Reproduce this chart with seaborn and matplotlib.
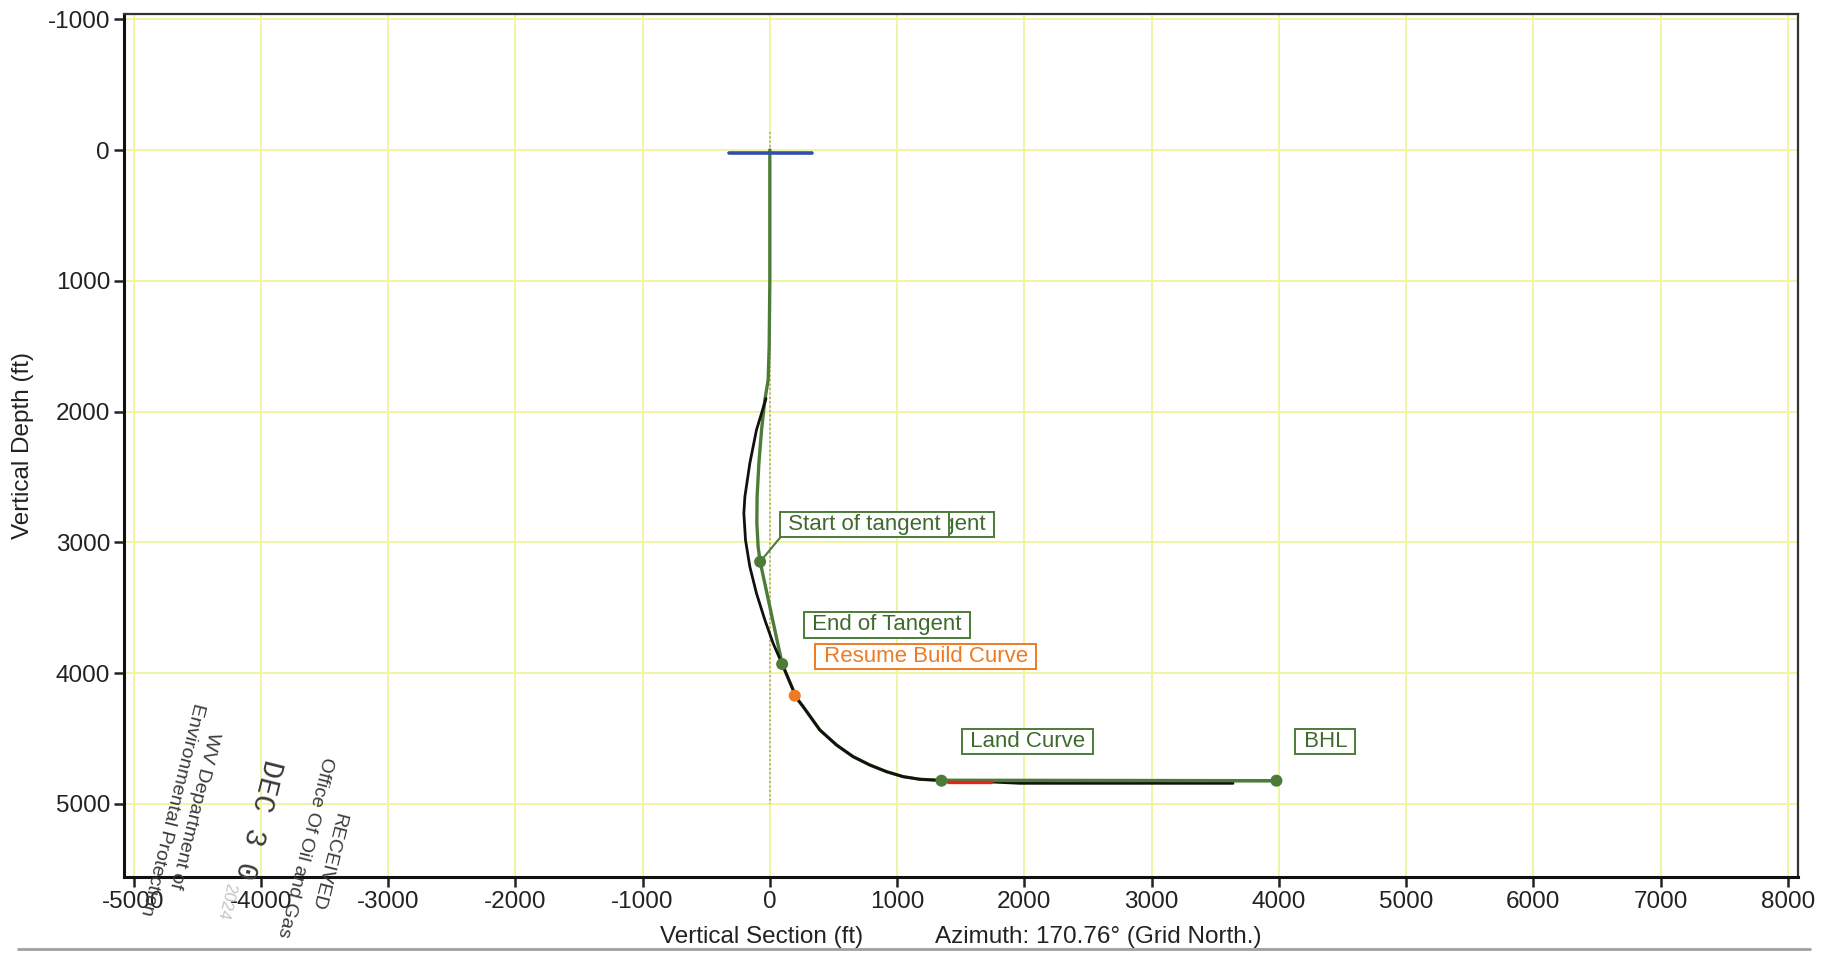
#Vertical section plot of the well plan

import pandas as pd
import seaborn as sns
import matplotlib.pyplot as plt

# planned well path (green)
plan_vs = [0, 0, -5, -13, -39, -65, -86, -100, -102, -92, -76, 97, 183, 196, 262, 393,
           524, 654, 786, 917, 1047, 1178, 1349, 3981]
plan_tvd = [0, 1000, 1500, 1758, 1911, 2141, 2395, 2651, 2854, 3033, 3148, 3930, 4128, 4172,
            4256, 4434, 4549, 4638, 4702, 4753, 4791, 4811, 4820, 4822]

# second path (black)
alt_vs = [-30, -105, -157, -196, -204, -191, -157, -105, -39, 26, 97, 183, 196, 262, 393,
          524, 654, 786, 917, 1047, 1178, 1349, 1742, 1964, 3640]
alt_tvd = [1900, 2141, 2395, 2651, 2778, 2982, 3186, 3389, 3593, 3772, 3930, 4128, 4172, 4256,
           4434, 4549, 4638, 4702, 4753, 4791, 4811, 4820, 4832, 4842, 4842]

# red section on the lateral
red_vs = [1401, 1742]
red_tvd = [4832, 4832]

# surface marker (blue) and vertical guide at VS 0
surf_vs = [-322, 328]
surf_tvd = [20, 20]
guide_vs = [0, 0]
guide_tvd = [-140, 5000]

# targets
tgt_names = ["Start of tangent", "End of Tangent", "Resume Build Curve", "Land Curve", "BHL"]
tgt_vs = [-76, 97, 196, 1349, 3981]
tgt_tvd = [3148, 3930, 4172, 4822, 4822]
tgt_kind = ["plan", "plan", "build", "plan", "plan"]

x_ticks = list(range(-5000, 8001, 1000))
y_ticks = list(range(-1000, 5001, 1000))

GREEN = "#4d7c38"
TXT_GREEN = "#3e6a2e"
ORANGE = "#f07a22"

sns.set_theme(style="white")
plt.rcParams["font.family"] = ["Liberation Sans", "DejaVu Sans"]
plt.rcParams["axes.unicode_minus"] = False

plan = pd.DataFrame({"vs": plan_vs, "tvd": plan_tvd})
alt = pd.DataFrame({"vs": alt_vs, "tvd": alt_tvd})
red = pd.DataFrame({"vs": red_vs, "tvd": red_tvd})
surf = pd.DataFrame({"vs": surf_vs, "tvd": surf_tvd})
guide = pd.DataFrame({"vs": guide_vs, "tvd": guide_tvd})
tgt = pd.DataFrame({"name": tgt_names, "vs": tgt_vs, "tvd": tgt_tvd, "kind": tgt_kind})

fig = plt.figure(figsize=(18.37, 9.64), dpi=100)
ax = fig.add_axes([0.0675, 0.0903, 0.9115, 0.8952])

sns.lineplot(data=guide, x="vs", y="tvd", sort=False, estimator=None, color="#9a9a9a",
             lw=1.2, linestyle=":", ax=ax, zorder=2)
sns.lineplot(data=plan, x="vs", y="tvd", sort=False, estimator=None, color=GREEN,
             lw=2.4, ax=ax, zorder=3)
sns.lineplot(data=alt, x="vs", y="tvd", sort=False, estimator=None, color="#111111",
             lw=2.0, ax=ax, zorder=4)
sns.lineplot(data=plan.tail(2), x="vs", y="tvd", sort=False, estimator=None, color=GREEN,
             lw=2.4, ax=ax, zorder=5)
sns.lineplot(data=red, x="vs", y="tvd", sort=False, estimator=None, color="#e8231c",
             lw=2.4, ax=ax, zorder=6)
sns.lineplot(data=surf, x="vs", y="tvd", sort=False, estimator=None, color="#2f4fae",
             lw=2.6, ax=ax, zorder=6)
sns.scatterplot(data=tgt, x="vs", y="tvd", hue="kind", palette={"plan": GREEN, "build": ORANGE},
                s=75, edgecolor="none", legend=False, ax=ax, zorder=7)

# labels
lbl = dict(fontsize=16, ha="left", va="center", zorder=9)
def box(c):
    return dict(boxstyle="square,pad=0.1", fc="white", ec=c, lw=1.4)

# label partly hidden behind "Start of tangent"
ax.text(449, 2862, " Start of tangent ", color=TXT_GREEN, bbox=box(GREEN),
        **{**lbl, "zorder": 8})
ax.annotate(" " + tgt_names[0] + " ", xy=(tgt_vs[0], tgt_tvd[0]), xytext=(99, 2862),
            color=TXT_GREEN, bbox=box(GREEN),
            arrowprops=dict(arrowstyle="-", color=GREEN, lw=1.5, shrinkA=0, shrinkB=0,
                            relpos=(0, 0)), **lbl)
ax.text(283, 3630, " " + tgt_names[1] + " ", color=TXT_GREEN, bbox=box(GREEN), **lbl)
ax.text(376, 3872, " " + tgt_names[2] + " ", color=ORANGE, bbox=box(ORANGE), **lbl)
ax.text(1524, 4522, " " + tgt_names[3] + " ", color=TXT_GREEN, bbox=box(GREEN), **lbl)
ax.text(4147, 4522, " " + tgt_names[4] + " ", color=TXT_GREEN, bbox=box(GREEN), **lbl)

# axes
ax.set_xlim(-5075, 8083)
ax.set_ylim(5558, -1040)
ax.set_xticks(x_ticks)
ax.set_yticks(y_ticks)
ax.set_xlabel("")
ax.set_ylabel("")
ax.grid(True, color="#eef59a", lw=1.3)
ax.tick_params(direction="out", length=7, width=1.8, color="#222222", labelsize=17.5,
               labelcolor="#222222", pad=3, left=True, bottom=True)
for side, w, c in [("left", 2.2, "#111111"), ("bottom", 2.2, "#111111"),
                   ("top", 1.6, "#333333"), ("right", 1.6, "#333333")]:
    ax.spines[side].set_linewidth(w)
    ax.spines[side].set_color(c)

fig.text(0.4145, 0.028, "Vertical Section (ft)", ha="center", va="center", fontsize=17.5,
         color="#222222")
fig.text(0.598, 0.028, "Azimuth: 170.76° (Grid North.)", ha="center", va="center",
         fontsize=17.5, color="#222222")
fig.text(0.0127, 0.538, "Vertical Depth (ft)", rotation=90, ha="center", va="center",
         fontsize=17.5, color="#222222")

# page edge line from the scan
fig.add_artist(plt.Line2D([18 / 1837, 1810 / 1837], [0.0156, 0.0156], color="#a0a0a0", lw=2))

# received stamp
stamp = dict(rotation=-104, rotation_mode="anchor", ha="left", va="center", color="#3a3a3a")
def px(x, y):
    return x / 1837, 1 - y / 964
fig.text(*px(340, 813), "RECEIVED", fontsize=14, **stamp)
fig.text(*px(327, 757), "Office Of Oil and Gas", fontsize=14, **stamp)
fig.text(*px(273, 760), "DEC 3 0", fontsize=21, family="Liberation Mono", **stamp)
fig.text(*px(230, 883), "2024", fontsize=12, **{**stamp, "color": "#c4c4c4"})
fig.text(*px(213, 732), "WV Department of", fontsize=14, **stamp)
fig.text(*px(198, 703), "Environmental Protection", fontsize=14, **stamp)

fig.savefig("out.png", dpi=100)
